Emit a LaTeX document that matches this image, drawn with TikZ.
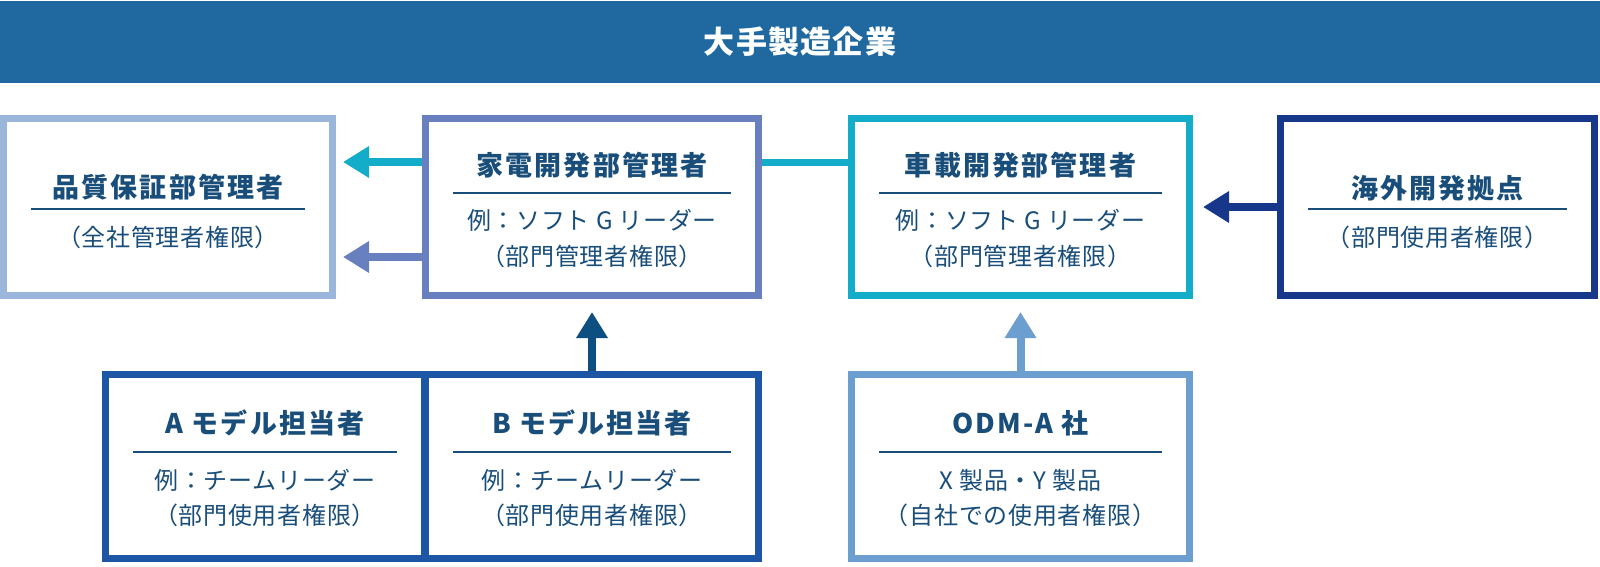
\documentclass[tikz,border=0pt]{standalone}
\usepackage{fontspec}
\setmainfont{Noto Sans CJK JP}
\usetikzlibrary{arrows.meta}

\definecolor{bannerblue}{HTML}{1F68A0}
\definecolor{textblue}{HTML}{1A4E7A}
\definecolor{qablue}{HTML}{9AB6DA}
\definecolor{kadenblue}{HTML}{6880BF}
\definecolor{shakencyan}{HTML}{14ADC9}
\definecolor{overseasblue}{HTML}{17388A}
\definecolor{modelblue}{HTML}{1E56A6}
\definecolor{odmblue}{HTML}{6C9ECF}
\definecolor{updark}{HTML}{0D4F80}

\begin{document}
\begin{tikzpicture}[
    x=1pt, y=-1pt,
    banner/.style={
        fill=bannerblue,
        minimum width=1600pt,
        minimum height=82pt,
        inner sep=0pt,
        text=white,
        text height=23.6pt,
        text depth=0pt,
        font=\fontsize{31}{36}\selectfont\bfseries\addfontfeatures{LetterSpace=4},
    },
    box/.style={
        draw,
        line width=7pt,
        fill=white,
        inner sep=0pt,
    },
    title/.style={
        inner sep=0pt,
        text=textblue,
        text height=20.5pt,
        text depth=0pt,
        font=\fontsize{27}{32}\selectfont\bfseries\addfontfeatures{LetterSpace=8},
    },
    sub/.style={
        inner sep=0pt,
        text=textblue,
        text height=18.2pt,
        text depth=0pt,
        font=\fontsize{24}{28}\selectfont\addfontfeatures{LetterSpace=3},
    },
    rule/.style={
        draw=textblue,
        line width=1.8pt,
    },
    arrowline/.style={
        line width=8pt,
        -{Triangle[length=26pt, width=30pt]},
    },
    link/.style={
        line width=7pt,
    }
]
    \useasboundingbox (0,0) rectangle (1600,566);

    % Banner
    \node[banner] (maker) at (800,42) {大手製造企業};

    % Upper row
    \node[box, draw=qablue, minimum width=329pt, minimum height=177pt] (qa) at (168,207) {};
    \node[box, draw=kadenblue, minimum width=333pt, minimum height=177pt] (kaden) at (592,207) {};
    \node[box, draw=shakencyan, minimum width=338pt, minimum height=177pt] (shaken) at (1020.5,207) {};
    \node[box, draw=overseasblue, minimum width=314pt, minimum height=177pt] (overseas) at (1437.5,207) {};

    % Lower row
    \node[box, draw=modelblue, minimum width=319pt, minimum height=184pt] (modela) at (265,466.5) {};
    \node[box, draw=modelblue, minimum width=333pt, minimum height=184pt] (modelb) at (592,466.5) {};
    \node[box, draw=odmblue, minimum width=338pt, minimum height=184pt] (odm) at (1020.5,466.5) {};

    % Box texts
    \node[title] (qa-title) at (168,187) {品質保証部管理者};
    \draw[rule] ([xshift=31pt, yshift=-2pt]qa.west) -- ([xshift=-31pt, yshift=-2pt]qa.east);
    \node[sub] (qa-sub) at (168,237) {（全社管理者権限）};

    \node[title] (kaden-title) at (592,165) {家電開発部管理者};
    \draw[rule] ([xshift=31pt, yshift=14pt]kaden.west) -- ([xshift=-31pt, yshift=14pt]kaden.east);
    \node[sub] (kaden-role) at (592,220) {例：ソフト G リーダー};
    \node[sub] (kaden-sub) at (592,256) {（部門管理者権限）};

    \node[title] (shaken-title) at (1020.5,165) {車載開発部管理者};
    \draw[rule] ([xshift=31pt, yshift=14pt]shaken.west) -- ([xshift=-31pt, yshift=14pt]shaken.east);
    \node[sub] (shaken-role) at (1020.5,220) {例：ソフト G リーダー};
    \node[sub] (shaken-sub) at (1020.5,256) {（部門管理者権限）};

    \node[title] (overseas-title) at (1437.5,188) {海外開発拠点};
    \draw[rule] ([xshift=31pt, yshift=-2pt]overseas.west) -- ([xshift=-31pt, yshift=-2pt]overseas.east);
    \node[sub] (overseas-sub) at (1437.5,237) {（部門使用者権限）};

    \node[title] (modela-title) at (265,423) {A モデル担当者};
    \draw[rule] ([xshift=31pt, yshift=14.5pt]modela.west) -- ([xshift=-31pt, yshift=14.5pt]modela.east);
    \node[sub] (modela-role) at (265,480) {例：チームリーダー};
    \node[sub] (modela-sub) at (265,515) {（部門使用者権限）};

    \node[title] (modelb-title) at (592,423) {B モデル担当者};
    \draw[rule] ([xshift=31pt, yshift=14.5pt]modelb.west) -- ([xshift=-31pt, yshift=14.5pt]modelb.east);
    \node[sub] (modelb-role) at (592,480) {例：チームリーダー};
    \node[sub] (modelb-sub) at (592,515) {（部門使用者権限）};

    \node[title] (odm-title) at (1020.5,423) {ODM-A 社};
    \draw[rule] ([xshift=31pt, yshift=14.5pt]odm.west) -- ([xshift=-31pt, yshift=14.5pt]odm.east);
    \node[sub] (odm-role) at (1020.5,480) {X 製品・Y 製品};
    \node[sub] (odm-sub) at (1020.5,515) {（自社での使用者権限）};

    % Connectors
    \draw[arrowline, color=shakencyan, shorten >=7pt] ([yshift=45pt]kaden.west) -- ([yshift=45pt]qa.east);
    \draw[arrowline, color=kadenblue, shorten >=7pt] ([yshift=-50pt]kaden.west) -- ([yshift=-50pt]qa.east);
    \draw[link, color=shakencyan] ([yshift=45pt]kaden.east) -- ([yshift=45pt]shaken.west);
    \draw[arrowline, color=overseasblue, shorten >=10pt] (overseas.west) -- (shaken.east);
    \draw[arrowline, color=updark, shorten >=13pt] (modelb.north) -- (kaden.south);
    \draw[arrowline, color=odmblue, shorten >=13pt] (odm.north) -- (shaken.south);
\end{tikzpicture}
\end{document}
